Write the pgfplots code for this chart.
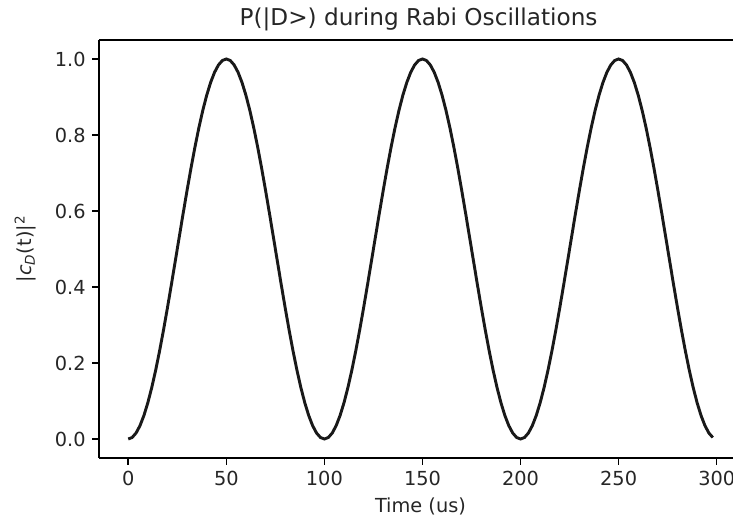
\documentclass[border=0pt]{standalone}
\usepackage{pgfplots}
\pgfplotsset{compat=1.18}
\usepackage{fontspec}
\setmainfont{DejaVu Sans}
\begin{document}
\fontsize{11.6}{14}\selectfont
\begin{tikzpicture}
\begin{axis}[
  at={(0,0)}, anchor=south west,
  scale only axis,
  width=380.4pt, height=250.8pt,
  xmin=-14.9, xmax=308.3,
  ymin=-0.05, ymax=1.05,
  axis x line=box,
  axis y line*=left,
  axis line style={line width=0.9pt, black},
  xtick={0,50,100,150,200,250,300},
  ytick={0,0.2,0.4,0.6,0.8,1.0},
  xtick pos=bottom, ytick pos=left,
  tick align=outside,
  major tick length=4pt,
  every tick/.style={black, line width=0.9pt},
  /pgf/number format/assume math mode=true,
  yticklabel style={/pgf/number format/.cd, fixed, fixed zerofill, precision=1},
  xticklabel style={/pgf/number format/.cd, fixed, precision=0},
  tick label style={font=\fontsize{11.6}{14}\selectfont, text=black!85},
  xlabel={Time (us)},
  ylabel={|\textit{c}\textsubscript{\textit{D}}(t)|\textsuperscript{2}},
  xlabel style={at={(axis description cs:0.507,-0.117)}, anchor=center, font=\fontsize{11.6}{14}\selectfont, text=black!85},
  ylabel style={at={(axis description cs:-0.116,0.5)}, anchor=center, font=\fontsize{11.6}{14}\selectfont, text=black!85},
  title={P(|D>) during Rabi Oscillations},
  title style={at={(axis description cs:0.504,1.050)}, anchor=center, yshift=0pt, font=\fontsize{13.9}{16}\selectfont, text=black!85},
  every axis title shift=0pt,
  clip=false,
]
\addplot[black!90, line width=1.75pt, no markers] coordinates {
(0,0) (2,0.00394) (4,0.01571) (6,0.03511) (8,0.06185) (10,0.09549) (12,0.13552) (14,0.18129) (16,0.23209) (18,0.28711) (20,0.34549) (22,0.40631) (24,0.46860) (26,0.53140) (28,0.59369) (30,0.65451) (32,0.71289) (34,0.76791) (36,0.81871) (38,0.86448) (40,0.90451) (42,0.93815) (44,0.96489) (46,0.98429) (48,0.99606) (50,1)
(52,0.99606) (54,0.98429) (56,0.96489) (58,0.93815) (60,0.90451) (62,0.86448) (64,0.81871) (66,0.76791) (68,0.71289) (70,0.65451) (72,0.59369) (74,0.53140) (76,0.46860) (78,0.40631) (80,0.34549) (82,0.28711) (84,0.23209) (86,0.18129) (88,0.13552) (90,0.09549) (92,0.06185) (94,0.03511) (96,0.01571) (98,0.00394)
(100,0) (102,0.00394) (104,0.01571) (106,0.03511) (108,0.06185) (110,0.09549) (112,0.13552) (114,0.18129) (116,0.23209) (118,0.28711) (120,0.34549) (122,0.40631) (124,0.46860) (126,0.53140) (128,0.59369) (130,0.65451) (132,0.71289) (134,0.76791) (136,0.81871) (138,0.86448) (140,0.90451) (142,0.93815) (144,0.96489) (146,0.98429) (148,0.99606) (150,1)
(152,0.99606) (154,0.98429) (156,0.96489) (158,0.93815) (160,0.90451) (162,0.86448) (164,0.81871) (166,0.76791) (168,0.71289) (170,0.65451) (172,0.59369) (174,0.53140) (176,0.46860) (178,0.40631) (180,0.34549) (182,0.28711) (184,0.23209) (186,0.18129) (188,0.13552) (190,0.09549) (192,0.06185) (194,0.03511) (196,0.01571) (198,0.00394)
(200,0) (202,0.00394) (204,0.01571) (206,0.03511) (208,0.06185) (210,0.09549) (212,0.13552) (214,0.18129) (216,0.23209) (218,0.28711) (220,0.34549) (222,0.40631) (224,0.46860) (226,0.53140) (228,0.59369) (230,0.65451) (232,0.71289) (234,0.76791) (236,0.81871) (238,0.86448) (240,0.90451) (242,0.93815) (244,0.96489) (246,0.98429) (248,0.99606) (250,1)
(252,0.99606) (254,0.98429) (256,0.96489) (258,0.93815) (260,0.90451) (262,0.86448) (264,0.81871) (266,0.76791) (268,0.71289) (270,0.65451) (272,0.59369) (274,0.53140) (276,0.46860) (278,0.40631) (280,0.34549) (282,0.28711) (284,0.23209) (286,0.18129) (288,0.13552) (290,0.09549) (292,0.06185) (294,0.03511) (296,0.01571) (298,0.00394)
};
\end{axis}
\pgfresetboundingbox
\path[use as bounding box] (-59.4pt,-34.8pt) rectangle (380.4pt,274.8pt);
\end{tikzpicture}
\end{document}
